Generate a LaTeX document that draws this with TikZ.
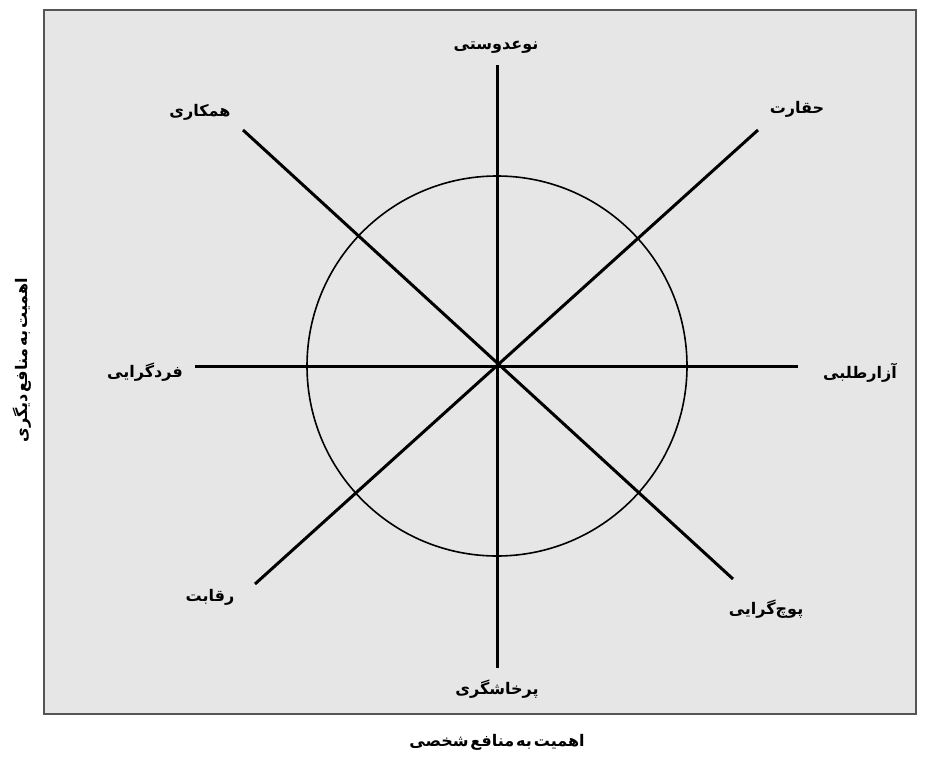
\documentclass[tikz,border=0pt]{standalone}
\usepackage{fontspec}
\newfontfamily\arabicfont[Script=Arabic]{DejaVu Sans}
\TeXXeTstate=1
\definecolor{panel}{HTML}{E6E6E6}
\definecolor{frame}{HTML}{555555}
\tikzset{
  axisline/.style={line width=3pt, black},
  lbl/.style={font=\arabicfont\bfseries\fontsize{16}{18}\selectfont, inner sep=1pt},
}
\newcommand{\rl}[1]{\beginR #1\endR}
\newcommand{\tightrl}[1]{{\spaceskip=0.12em\relax\beginR #1\endR}}
\begin{document}
\begin{tikzpicture}[x=1pt,y=-1pt]
\useasboundingbox (0,0) rectangle (934,760);
\fill[white] (0,0) rectangle (934,760);
\draw[fill=panel, draw=frame, line width=1.4pt] (44,10) rectangle (916,714);
\coordinate (c) at (497,366);
\draw[line width=1.6pt] (c) circle (190);
\coordinate (n) at (497,65);
\coordinate (s) at (497,668);
\coordinate (w) at (195,366);
\coordinate (e) at (798,366);
\coordinate (nw) at (243,130);
\coordinate (se) at (733,579);
\coordinate (ne) at (758,130);
\coordinate (sw) at (255,584);
\draw[axisline] (n) -- (s);
\draw[axisline] (w) -- (e);
\draw[axisline] (nw) -- (se);
\draw[axisline] (ne) -- (sw);
\node[lbl] (tn) at (496,47) {\rl{نوعدوستی}};
\node[lbl] (tnw) at (200,112) {\rl{همکاری}};
\node[lbl] (tne) at (797,109) {\rl{حقارت}};
\node[lbl] (tw) at (145,372) {\rl{فردگرایی}};
\node[lbl] (te) at (860,373) {\rl{آزارطلبی}};
\node[lbl] (tsw) at (210,597) {\rl{رقابت}};
\node[lbl] (tse) at (766,609) {\rl{پوچ‌گرایی}};
\node[lbl] (ts) at (497,689) {\rl{پرخاشگری}};
\node[lbl] (xl) at (497,742) {\tightrl{اهمیت به منافع شخصی}};
\node[lbl, rotate=90] (yl) at (22,360) {\tightrl{اهمیت به منافع دیگری}};
\end{tikzpicture}
\end{document}
